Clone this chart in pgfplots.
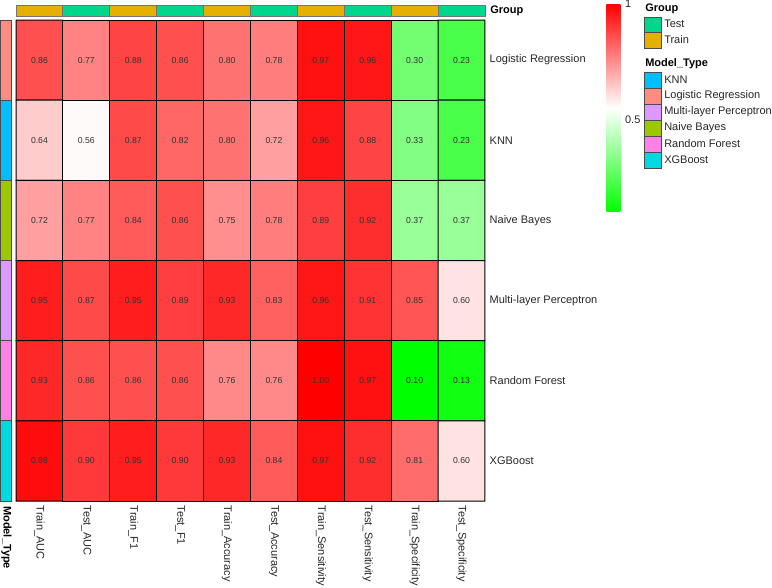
\documentclass[border=0pt]{standalone}
\usepackage{pgfplots}
\pgfplotsset{compat=1.18}
\usepackage{pgfplotstable}
\usepackage{fontspec}
\setmainfont{Liberation Sans}
\definecolor{cTest}{RGB}{0,214,140}
\definecolor{cTrain}{RGB}{230,176,0}
\definecolor{cKNN}{RGB}{0,190,255}
\definecolor{cLR}{RGB}{255,140,128}
\definecolor{cMLP}{RGB}{222,153,255}
\definecolor{cNB}{RGB}{155,200,0}
\definecolor{cRF}{RGB}{255,128,230}
\definecolor{cXGB}{RGB}{0,216,226}
% y: 0 = Logistic Regression (top) ... 5 = XGBoost (bottom)
\pgfplotstableread{
x y v
0 0 0.86
1 0 0.77
2 0 0.88
3 0 0.86
4 0 0.80
5 0 0.78
6 0 0.97
7 0 0.96
8 0 0.30
9 0 0.23
0 1 0.64
1 1 0.56
2 1 0.87
3 1 0.82
4 1 0.80
5 1 0.72
6 1 0.96
7 1 0.88
8 1 0.33
9 1 0.23
0 2 0.72
1 2 0.77
2 2 0.84
3 2 0.86
4 2 0.75
5 2 0.78
6 2 0.89
7 2 0.92
8 2 0.37
9 2 0.37
0 3 0.95
1 3 0.87
2 3 0.95
3 3 0.89
4 3 0.93
5 3 0.83
6 3 0.96
7 3 0.91
8 3 0.85
9 3 0.60
0 4 0.93
1 4 0.86
2 4 0.86
3 4 0.86
4 4 0.76
5 4 0.76
6 4 1.00
7 4 0.97
8 4 0.10
9 4 0.13
0 5 0.98
1 5 0.90
2 5 0.95
3 5 0.90
4 5 0.93
5 5 0.84
6 5 0.97
7 5 0.92
8 5 0.81
9 5 0.60
}\heat
\newcommand{\lab}{\fontsize{8.25}{9.5}\selectfont}
\newcommand{\cellfont}{\fontsize{6.5}{7.5}\selectfont}
\begin{document}
\begin{tikzpicture}[x=0.75pt,y=0.75pt]
\useasboundingbox (0,0) rectangle (772,587);
\begin{axis}[
  at={(12pt,64.5pt)}, anchor=south west,
  scale only axis, width=351.75pt, height=360.75pt,
  xmin=-0.5, xmax=9.5, ymin=-0.5, ymax=5.5,
  y dir=reverse,
  clip=false,
  axis line style={draw=none},
  major tick length=0pt,
  xtick={0,...,9},
  xticklabels={Train\_AUC,Test\_AUC,Train\_F1,Test\_F1,Train\_Accuracy,Test\_Accuracy,Train\_Sensitivity,Test\_Sensitivity,Train\_Specificity,Test\_Specificity},
  x tick label style={rotate=-90, anchor=west, font=\lab, text=black!85},
  ytick={0,...,5},
  yticklabels={Logistic Regression,KNN,Naive Bayes,Multi-layer Perceptron,Random Forest,XGBoost},
  yticklabel pos=right,
  y tick label style={anchor=west, font=\lab, text=black!85},
  colormap={gwr}{rgb255(0cm)=(0,255,0); rgb255(1cm)=(255,255,255); rgb255(2cm)=(255,0,0)},
  point meta min=0.10, point meta max=1.00,
  colorbar,
  colorbar style={
    at={(parent axis.north east)}, anchor=north west,
    xshift=82.5pt, yshift=12pt,
    scale only axis, width=10.5pt, height=156pt,
    y dir=normal,
    ytick={0.5,1}, yticklabels={0.5,1},
    axis line style={draw=none},
    major tick length=0pt,
    yticklabel style={font=\lab, text=black!85},
  },
]
\addplot[matrix plot, mesh/cols=10, point meta=explicit, shader=faceted, faceted color=black, line width=0.75pt] table[x=x,y=y,meta=v] {\heat};
\addplot[only marks, mark=none, point meta=explicit symbolic, nodes near coords, nodes near coords style={anchor=center, font=\cellfont, text=black!80}] table[x=x,y=y,meta=v] {\heat};
% Group annotation bar
\addplot[fill=cTrain, draw=black!55, line width=0.6pt] coordinates {(-0.5,-0.55) (0.5,-0.55) (0.5,-0.687) (-0.5,-0.687)} --cycle;
\addplot[fill=cTest,  draw=black!55, line width=0.6pt] coordinates {(0.5,-0.55) (1.5,-0.55) (1.5,-0.687) (0.5,-0.687)} --cycle;
\addplot[fill=cTrain, draw=black!55, line width=0.6pt] coordinates {(1.5,-0.55) (2.5,-0.55) (2.5,-0.687) (1.5,-0.687)} --cycle;
\addplot[fill=cTest,  draw=black!55, line width=0.6pt] coordinates {(2.5,-0.55) (3.5,-0.55) (3.5,-0.687) (2.5,-0.687)} --cycle;
\addplot[fill=cTrain, draw=black!55, line width=0.6pt] coordinates {(3.5,-0.55) (4.5,-0.55) (4.5,-0.687) (3.5,-0.687)} --cycle;
\addplot[fill=cTest,  draw=black!55, line width=0.6pt] coordinates {(4.5,-0.55) (5.5,-0.55) (5.5,-0.687) (4.5,-0.687)} --cycle;
\addplot[fill=cTrain, draw=black!55, line width=0.6pt] coordinates {(5.5,-0.55) (6.5,-0.55) (6.5,-0.687) (5.5,-0.687)} --cycle;
\addplot[fill=cTest,  draw=black!55, line width=0.6pt] coordinates {(6.5,-0.55) (7.5,-0.55) (7.5,-0.687) (6.5,-0.687)} --cycle;
\addplot[fill=cTrain, draw=black!55, line width=0.6pt] coordinates {(7.5,-0.55) (8.5,-0.55) (8.5,-0.687) (7.5,-0.687)} --cycle;
\addplot[fill=cTest,  draw=black!55, line width=0.6pt] coordinates {(8.5,-0.55) (9.5,-0.55) (9.5,-0.687) (8.5,-0.687)} --cycle;
% Model_Type annotation column
\addplot[fill=cLR,  draw=black!70, line width=0.6pt] coordinates {(-0.83,-0.5) (-0.592,-0.5) (-0.592,0.5) (-0.83,0.5)} --cycle;
\addplot[fill=cKNN, draw=black!70, line width=0.6pt] coordinates {(-0.83,0.5) (-0.592,0.5) (-0.592,1.5) (-0.83,1.5)} --cycle;
\addplot[fill=cNB,  draw=black!70, line width=0.6pt] coordinates {(-0.83,1.5) (-0.592,1.5) (-0.592,2.5) (-0.83,2.5)} --cycle;
\addplot[fill=cMLP, draw=black!70, line width=0.6pt] coordinates {(-0.83,2.5) (-0.592,2.5) (-0.592,3.5) (-0.83,3.5)} --cycle;
\addplot[fill=cRF,  draw=black!70, line width=0.6pt] coordinates {(-0.83,3.5) (-0.592,3.5) (-0.592,4.5) (-0.83,4.5)} --cycle;
\addplot[fill=cXGB, draw=black!70, line width=0.6pt] coordinates {(-0.83,4.5) (-0.592,4.5) (-0.592,5.5) (-0.83,5.5)} --cycle;
\end{axis}
% annotation titles
\node[anchor=west, font=\lab\bfseries, inner sep=0pt] at (490,576) {Group};
\node[anchor=west, rotate=-90, font=\lab\bfseries, inner sep=0pt] at (6.5,81) {Model\_Type};
% legend
\node[anchor=west, font=\lab\bfseries, inner sep=0pt] at (645,578) {Group};
\filldraw[fill=cTest, draw=black!70, line width=0.6pt] (644,555) rectangle (661,570);
\filldraw[fill=cTrain, draw=black!70, line width=0.6pt] (644,539) rectangle (661,555);
\node[anchor=west, font=\lab, inner sep=0pt, text=black!85] at (664,563) {Test};
\node[anchor=west, font=\lab, inner sep=0pt, text=black!85] at (664,547) {Train};
\node[anchor=west, font=\lab\bfseries, inner sep=0pt] at (645,523) {Model\_Type};
\filldraw[fill=cKNN, draw=black!70, line width=0.6pt] (644,499) rectangle (661,515);
\filldraw[fill=cLR,  draw=black!70, line width=0.6pt] (644,483) rectangle (661,499);
\filldraw[fill=cMLP, draw=black!70, line width=0.6pt] (644,467) rectangle (661,483);
\filldraw[fill=cNB,  draw=black!70, line width=0.6pt] (644,451) rectangle (661,467);
\filldraw[fill=cRF,  draw=black!70, line width=0.6pt] (644,435) rectangle (661,451);
\filldraw[fill=cXGB, draw=black!70, line width=0.6pt] (644,419) rectangle (661,435);
\node[anchor=west, font=\lab, inner sep=0pt, text=black!85] at (664,507) {KNN};
\node[anchor=west, font=\lab, inner sep=0pt, text=black!85] at (664,491) {Logistic Regression};
\node[anchor=west, font=\lab, inner sep=0pt, text=black!85] at (664,475) {Multi-layer Perceptron};
\node[anchor=west, font=\lab, inner sep=0pt, text=black!85] at (664,459) {Naive Bayes};
\node[anchor=west, font=\lab, inner sep=0pt, text=black!85] at (664,443) {Random Forest};
\node[anchor=west, font=\lab, inner sep=0pt, text=black!85] at (664,427) {XGBoost};
\end{tikzpicture}
\end{document}
